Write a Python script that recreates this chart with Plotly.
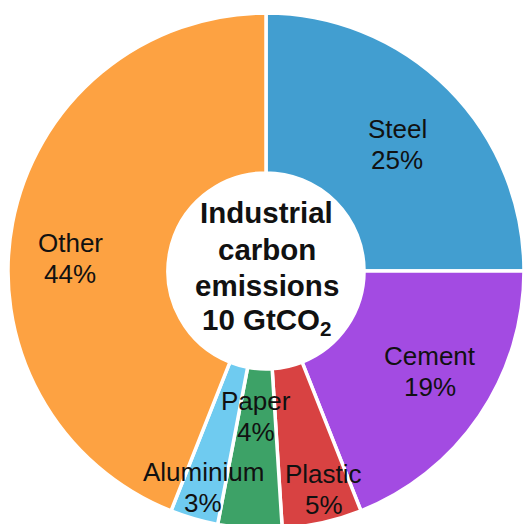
import math
import plotly.graph_objects as go

categories = ["Steel", "Cement", "Plastic", "Paper", "Aluminium", "Other"]
values = [25, 19, 5, 4, 3, 44]
colors = ["#429ED0", "#A34BE2", "#D84242", "#3DA267", "#6FCBF0", "#FDA242"]
center_lines = ["Industrial", "carbon", "emissions", "10 GtCO<sub>2</sub>"]

# figure canvas slightly bigger than the 523x524 window; the window crops it
W, H = 540, 540
cx, cy, R = 266, 271, 258  # pixel centre (from top-left) and outer radius

fig = go.Figure(go.Pie(
    labels=categories,
    values=values,
    sort=False,
    direction="clockwise",
    rotation=0,
    hole=0.38,
    marker=dict(colors=colors, line=dict(color="white", width=3.5)),
    textinfo="none",
    textposition="inside",
    hoverinfo="label+percent",
    domain=dict(x=[(cx - R) / W, (cx + R) / W],
                y=[(H - cy - R) / H, (H - cy + R) / H]),
    showlegend=False,
))

# label placement: radius (px) and small angle nudge (deg) per slice
label_r = [182, 192, 226, 146, 225, 196]
label_nudge = [1.1, -2.8, -2.2, 0.3, 0.0, -7.0]
line_gap = 31

LABEL_FONT = dict(family="Liberation Sans, Arial", size=26, color="#111111")
CENTER_FONT = dict(family="Liberation Sans, Arial", size=29.5, color="#111111")

annotations = []
total = sum(values)
cum = 0
for cat, v, r, nd in zip(categories, values, label_r, label_nudge):
    mid = (cum + v / 2) / total * 360 + nd  # clockwise from top
    cum += v
    px = cx + r * math.sin(math.radians(mid))
    py = cy - r * math.cos(math.radians(mid))
    for txt, off in ((cat, -line_gap / 2), (f"{round(v / total * 100)}%", line_gap / 2)):
        annotations.append(dict(
            x=px / W, y=1 - (py + off) / H, xref="paper", yref="paper",
            text=txt, showarrow=False, font=LABEL_FONT,
            xanchor="center", yanchor="middle",
        ))

center_gap = 36
center_y = 267
n = len(center_lines)
for i, line in enumerate(center_lines):
    py = center_y + (i - (n - 1) / 2) * center_gap
    annotations.append(dict(
        x=(cx + 0.5) / W, y=1 - py / H, xref="paper", yref="paper",
        text=f"<b>{line}</b>", showarrow=False, font=CENTER_FONT,
        xanchor="center", yanchor="middle",
    ))

fig.update_layout(
    width=W, height=H,
    margin=dict(l=0, r=0, t=0, b=0),
    paper_bgcolor="white",
    annotations=annotations,
)

fig.write_html(
    "out.html",
    config={"displayModeBar": False},
    post_script="document.body.style.margin='0';document.body.style.overflow='hidden';",
)
